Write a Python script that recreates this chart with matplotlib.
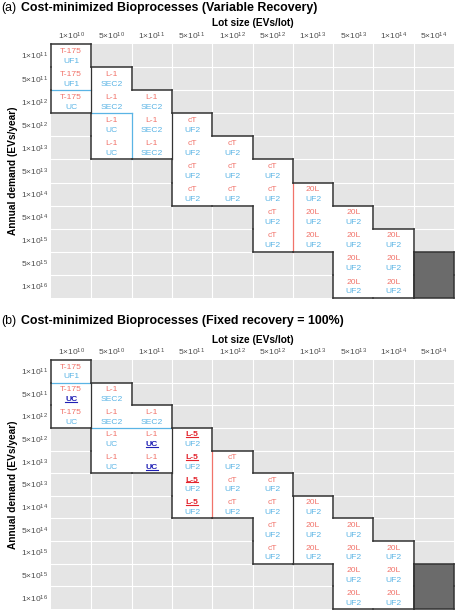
import matplotlib
matplotlib.use("Agg")
import matplotlib.pyplot as plt
from matplotlib.patches import Rectangle
from matplotlib.lines import Line2D
from matplotlib.transforms import IdentityTransform

plt.rcParams['font.family'] = ['Liberation Sans', 'DejaVu Sans']
plt.rcParams['mathtext.fontset'] = 'custom'
plt.rcParams['mathtext.rm'] = 'Liberation Sans'
plt.rcParams['mathtext.it'] = 'Liberation Sans:italic'
plt.rcParams['mathtext.bf'] = 'Liberation Sans:bold'

# ---------------- data ----------------
lot_labels = ["1×10$^{10}$", "5×10$^{10}$", "1×10$^{11}$", "5×10$^{11}$", "1×10$^{12}$",
              "5×10$^{12}$", "1×10$^{13}$", "5×10$^{13}$", "1×10$^{14}$", "5×10$^{14}$"]
demand_labels = ["1×10$^{11}$", "5×10$^{11}$", "1×10$^{12}$", "5×10$^{12}$", "1×10$^{13}$",
                 "5×10$^{13}$", "1×10$^{14}$", "5×10$^{14}$", "1×10$^{15}$", "5×10$^{15}$",
                 "1×10$^{16}$"]

# "" = infeasible (grey), "#" = dark cell, trailing "*" = bold underlined
a_upstream = [
    ["T-175", "", "", "", "", "", "", "", "", ""],
    ["T-175", "L-1", "", "", "", "", "", "", "", ""],
    ["T-175", "L-1", "L-1", "", "", "", "", "", "", ""],
    ["", "L-1", "L-1", "cT", "", "", "", "", "", ""],
    ["", "L-1", "L-1", "cT", "cT", "", "", "", "", ""],
    ["", "", "", "cT", "cT", "cT", "", "", "", ""],
    ["", "", "", "cT", "cT", "cT", "20L", "", "", ""],
    ["", "", "", "", "", "cT", "20L", "20L", "", ""],
    ["", "", "", "", "", "cT", "20L", "20L", "20L", ""],
    ["", "", "", "", "", "", "", "20L", "20L", "#"],
    ["", "", "", "", "", "", "", "20L", "20L", "#"],
]
a_downstream = [
    ["UF1", "", "", "", "", "", "", "", "", ""],
    ["UF1", "SEC2", "", "", "", "", "", "", "", ""],
    ["UC", "SEC2", "SEC2", "", "", "", "", "", "", ""],
    ["", "UC", "SEC2", "UF2", "", "", "", "", "", ""],
    ["", "UC", "SEC2", "UF2", "UF2", "", "", "", "", ""],
    ["", "", "", "UF2", "UF2", "UF2", "", "", "", ""],
    ["", "", "", "UF2", "UF2", "UF2", "UF2", "", "", ""],
    ["", "", "", "", "", "UF2", "UF2", "UF2", "", ""],
    ["", "", "", "", "", "UF2", "UF2", "UF2", "UF2", ""],
    ["", "", "", "", "", "", "", "UF2", "UF2", "#"],
    ["", "", "", "", "", "", "", "UF2", "UF2", "#"],
]
b_upstream = [
    ["T-175", "", "", "", "", "", "", "", "", ""],
    ["T-175", "L-1", "", "", "", "", "", "", "", ""],
    ["T-175", "L-1", "L-1", "", "", "", "", "", "", ""],
    ["", "L-1", "L-1", "L-5*", "", "", "", "", "", ""],
    ["", "L-1", "L-1", "L-5*", "cT", "", "", "", "", ""],
    ["", "", "", "L-5*", "cT", "cT", "", "", "", ""],
    ["", "", "", "L-5*", "cT", "cT", "20L", "", "", ""],
    ["", "", "", "", "", "cT", "20L", "20L", "", ""],
    ["", "", "", "", "", "cT", "20L", "20L", "20L", ""],
    ["", "", "", "", "", "", "", "20L", "20L", "#"],
    ["", "", "", "", "", "", "", "20L", "20L", "#"],
]
b_downstream = [
    ["UF1", "", "", "", "", "", "", "", "", ""],
    ["UC*", "SEC2", "", "", "", "", "", "", "", ""],
    ["UC", "SEC2", "SEC2", "", "", "", "", "", "", ""],
    ["", "UC", "UC*", "UF2", "", "", "", "", "", ""],
    ["", "UC", "UC*", "UF2", "UF2", "", "", "", "", ""],
    ["", "", "", "UF2", "UF2", "UF2", "", "", "", ""],
    ["", "", "", "UF2", "UF2", "UF2", "UF2", "", "", ""],
    ["", "", "", "", "", "UF2", "UF2", "UF2", "", ""],
    ["", "", "", "", "", "UF2", "UF2", "UF2", "UF2", ""],
    ["", "", "", "", "", "", "", "UF2", "UF2", "#"],
    ["", "", "", "", "", "", "", "UF2", "UF2", "#"],
]
# separators between process regions: (orientation, boundary index, start, end, kind)
a_separators = [("h", 2, 0, 1, "down"), ("h", 3, 1, 2, "down"), ("v", 2, 3, 5, "down"),
                ("v", 1, 1, 3, "both"), ("v", 3, 3, 5, "both"), ("v", 6, 6, 9, "up")]
b_separators = [("h", 1, 0, 1, "down"), ("h", 3, 1, 3, "down"), ("v", 1, 1, 3, "both"),
                ("v", 3, 3, 5, "both"), ("v", 4, 4, 7, "up"), ("v", 6, 6, 9, "both")]

titles = [("(a)", "Cost-minimized Bioprocesses (Variable Recovery)"),
          ("(b)", "Cost-minimized Bioprocesses (Fixed recovery = 100%)")]

# ---------------- style ----------------
W, H = 455, 611
RED = "#F1736A"
BLUE = "#5AB4E5"
RED_EM = "#E3232C"
BLUE_EM = "#1F1FB4"
OUTLINE = "#333333"
SEP_COL = {"down": BLUE, "up": RED, "both": OUTLINE}
BG = "#E5E5E5"
DARK = "#6B6B6B"
TICK = "#4D4D4D"

fig = plt.figure(figsize=(W / 100, H / 100), dpi=100)


def fx(px):
    return px / W


def fy(py):
    return 1 - py / H


panels = [
    dict(top=44, bottom=298, title_y=8, lot_y=23, up=a_upstream, down=a_downstream,
         seps=a_separators, title=titles[0]),
    dict(top=360, bottom=609, title_y=321, lot_y=340, up=b_upstream, down=b_downstream,
         seps=b_separators, title=titles[1]),
]

LEFT, RIGHT = 51, 454
underline_texts = []

for p in panels:
    ax = fig.add_axes([fx(LEFT), fy(p["bottom"]), fx(RIGHT) - fx(LEFT),
                       fy(p["top"]) - fy(p["bottom"])])
    ncol = len(lot_labels)
    nrow = len(demand_labels)
    ax.set_xlim(0, ncol)
    ax.set_ylim(nrow, 0)
    ax.set_facecolor(BG)
    for s in ax.spines.values():
        s.set_visible(False)
    ax.xaxis.tick_top()
    ax.set_xticks([i + 0.5 for i in range(ncol)])
    ax.set_xticklabels(lot_labels)
    ax.set_yticks([j + 0.5 for j in range(nrow)])
    ax.set_yticklabels(demand_labels)
    ax.tick_params(length=0, labelsize=6.0, labelcolor=TICK)
    ax.tick_params(axis="x", pad=1.5)
    ax.tick_params(axis="y", pad=2)
    # white grid at boundaries
    for i in range(1, ncol):
        ax.axvline(i, color="white", lw=0.8, zorder=0.5)
    for j in range(1, nrow):
        ax.axhline(j, color="white", lw=0.8, zorder=0.5)

    up, down = p["up"], p["down"]

    def status(r, c):
        if r < 0 or r >= nrow or c < 0 or c >= ncol:
            return -1
        v = up[r][c]
        if v == "":
            return 0
        if v == "#":
            return 2
        return 1

    for r in range(nrow):
        for c in range(ncol):
            st = status(r, c)
            if st == 0:
                continue
            ax.add_patch(Rectangle((c, r), 1, 1, facecolor="white" if st == 1 else DARK,
                                   edgecolor="none", zorder=1))
            # outline edges
            for dr, dc, seg in [(-1, 0, ([c, c + 1], [r, r])), (1, 0, ([c, c + 1], [r + 1, r + 1])),
                                (0, -1, ([c, c], [r, r + 1])), (0, 1, ([c + 1, c + 1], [r, r + 1]))]:
                if status(r + dr, c + dc) != st:
                    ax.plot(seg[0], seg[1], color=OUTLINE, lw=1.1, zorder=4,
                            solid_capstyle="projecting", clip_on=False)
            if st == 1:
                for lab, yoff, col, col_em in [(up[r][c], -0.19, RED, RED_EM),
                                               (down[r][c], 0.24, BLUE, BLUE_EM)]:
                    em = lab.endswith("*")
                    txt = lab.rstrip("*")
                    t = ax.text(c + 0.5, r + 0.5 + yoff, txt, ha="center", va="center",
                                fontsize=6.1, color=col_em if em else col,
                                fontweight="bold" if em else "normal", zorder=5)
                    if em:
                        underline_texts.append((t, col_em))

    for o, b, s0, s1, kind in p["seps"]:
        if o == "h":
            ax.plot([s0, s1], [b, b], color=SEP_COL[kind], lw=0.9, zorder=3.5)
        else:
            ax.plot([b, b], [s0, s1], color=SEP_COL[kind], lw=0.9, zorder=3.5)

    # titles
    fig.text(fx(1), fy(p["title_y"]), p["title"][0], fontsize=8.9, va="center", ha="left")
    fig.text(fx(21), fy(p["title_y"]), p["title"][1], fontsize=8.9, fontweight="bold",
             va="center", ha="left")
    fig.text(fx((LEFT + RIGHT) / 2), fy(p["lot_y"]), "Lot size (EVs/lot)", fontsize=7.3,
             fontweight="bold", ha="center", va="center")
    fig.text(fx(13), fy((p["top"] + p["bottom"]) / 2), "Annual demand (EVs/year)",
             fontsize=7.3, fontweight="bold", rotation=90, ha="center", va="center")

fig.canvas.draw()
renderer = fig.canvas.get_renderer()
for t, col in underline_texts:
    bb = t.get_window_extent(renderer)
    y = bb.y0 + 1.2
    fig.add_artist(Line2D([bb.x0, bb.x1], [y, y], color=col, lw=0.8,
                         transform=IdentityTransform()))

fig.savefig("out.png", dpi=100)
